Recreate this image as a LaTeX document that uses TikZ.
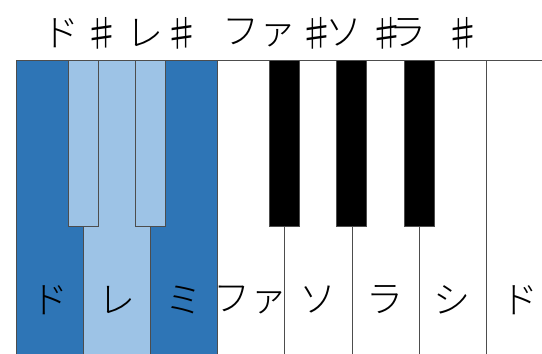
\documentclass[tikz,border=0pt]{standalone}
\usepackage{fontspec}
\newfontfamily\jpfont{Noto Sans CJK JP}[UprightFont=* Light]
\usepackage{xcolor}
\usepackage{tikz}
\usetikzlibrary{positioning}
\definecolor{KeyDark}{HTML}{2E75B6}
\definecolor{KeyLight}{HTML}{9DC3E6}
\definecolor{KeyEdge}{HTML}{4D4D4D}

\begin{document}
\begin{tikzpicture}[x=1pt, y=-1pt,
    keylabel/.style={font=\jpfont\fontsize{37}{37}\selectfont, inner sep=0pt}]
  \useasboundingbox (0,0) rectangle (542,354);
  \begin{scope}
    \clip (0,0) rectangle (542,354);
    % White keys
    \foreach \i/\c in {0/KeyDark, 1/KeyLight, 2/KeyDark, 3/white, 4/white, 5/white, 6/white, 7/white} {
      \draw[KeyEdge, fill=\c] (16+67.14*\i, 60) rectangle ++(67.14, 320);
    }
    % Black keys
    \foreach \x/\c in {83.1/KeyLight, 150.3/KeyLight, 284.4/black, 351.6/black, 418.7/black} {
      \draw[KeyEdge, fill=\c] (\x-15, 60) rectangle ++(30, 166);
    }
  \end{scope}
  % Names under the white keys
  \foreach \i/\t in {0/ド, 1/レ, 2/ミ, 3/ファ, 4/ソ, 5/ラ, 6/シ, 7/ド} {
    \node[keylabel] (w\i) at (16+67.14*\i+33.57, 300) {\t};
  }
  % Names above the keyboard
  \foreach \x/\t/\n in {61/ド/tDo, 102/♯/tSa, 145/レ/tRe, 182/♯/tSb, 259/ファ/tFa,
      317/♯/tSc, 344/ソ/tSo, 387/♯/tSd, 408/ラ/tLa, 463/♯/tSe} {
    \node[keylabel] (\n) at (\x, 33) {\t};
  }
\end{tikzpicture}
\end{document}
